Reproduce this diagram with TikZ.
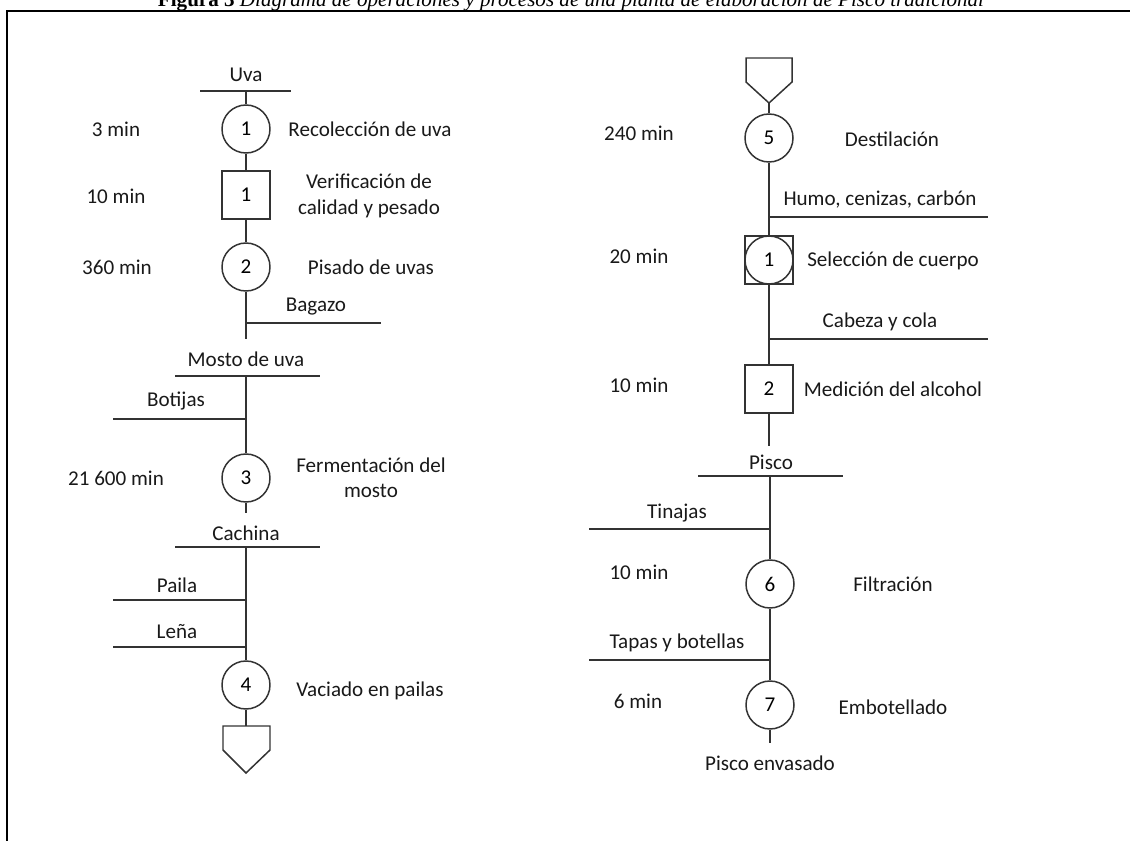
\documentclass[tikz,border=0pt]{standalone}
\usepackage{fontspec}
\setmainfont{Carlito}
\newfontfamily\capfont{Liberation Serif}
\begin{document}
\begin{tikzpicture}[x=0.02cm,y=-0.02cm,
  ln/.style={draw=black!80,line width=0.85pt},
  lbl/.style={font=\fontsize{12}{14.5}\selectfont,inner sep=0pt,text=black!90,align=center},
  op/.style={circle,ln,minimum size=0.96cm,inner sep=0pt,font=\fontsize{12}{14.5}\selectfont,fill=white},
  insp/.style={rectangle,ln,minimum size=0.96cm,inner sep=0pt,font=\fontsize{12}{14.5}\selectfont}]
\useasboundingbox (0,0) rectangle (1130,841);
\clip (0,0) rectangle (1130,841);
% caption (cut off at top) and frame
\node[font=\capfont\fontsize{12}{14}\selectfont,anchor=base,inner sep=0pt] (cap) at (571,6.5) {\textbf{Figura 3} \textit{Diagrama de operaciones y procesos de una planta de elaboración de Pisco tradicional}};
\coordinate (fTL) at (7,11);
\coordinate (fTR) at (1135,11);
\coordinate (fBL) at (7,850);
\draw[line width=1.1pt] (fTR) -- (fTL) -- (fBL);

% ================= LEFT COLUMN =================
\node[lbl] (uva) at (246,75) {Uva};
\coordinate (uvaL) at (200,91); \coordinate (uvaR) at (291,91); \coordinate (uvaM) at (246,91);
\draw[ln] (uvaL) -- (uvaR);
\node[op] (o1) at (246,129) {1};
\node[lbl] (t1) at (116,129) {3 min};
\node[lbl] (d1) at (370,129) {Recolección de uva};
\node[insp] (i1) at (246,195) {1};
\node[lbl] (t2) at (116,196) {10 min};
\node[lbl] (d2) at (369,196) {Verificación de\\calidad y pesado};
\node[op] (o2) at (246,267) {2};
\node[lbl] (t3) at (117,267) {360 min};
\node[lbl] (d3) at (371,267) {Pisado de uvas};
\draw[ln] (uvaM) -- (o1);
\draw[ln] (o1) -- (i1);
\draw[ln] (i1) -- (o2);
\coordinate (bagM) at (246,323); \coordinate (bagR) at (381,323); \coordinate (e1) at (246,339);
\node[lbl] (bag) at (316,307) {Bagazo};
\draw[ln] (o2) -- (e1);
\draw[ln] (bagM) -- (bagR);

\node[lbl] (mosto) at (246,359) {Mosto de uva};
\coordinate (moL) at (175,376); \coordinate (moR) at (320,376); \coordinate (moM) at (246,376);
\draw[ln] (moL) -- (moR);
\coordinate (botL) at (113,419); \coordinate (botM) at (246,419);
\node[lbl] (bot) at (176,401) {Botijas};
\draw[ln] (botL) -- (botM);
\node[op] (o3) at (246,478) {3};
\node[lbl] (t4) at (116,478) {21 600 min};
\node[lbl] (d4) at (371,478) {Fermentación del\\mosto};
\draw[ln] (moM) -- (o3);
\coordinate (e2) at (246,513);
\draw[ln] (o3) -- (e2);

\node[lbl] (cach) at (246,533) {Cachina};
\coordinate (caL) at (175,547); \coordinate (caR) at (320,547); \coordinate (caM) at (246,547);
\draw[ln] (caL) -- (caR);
\coordinate (paL) at (113,600); \coordinate (paM) at (246,600);
\node[lbl] (pai) at (177,585) {Paila};
\draw[ln] (paL) -- (paM);
\coordinate (leL) at (113,647); \coordinate (leM) at (246,647);
\node[lbl] (len) at (177,632) {Leña};
\draw[ln] (leL) -- (leM);
\node[op] (o4) at (246,685) {4};
\node[lbl] (d5) at (370,691) {Vaciado en pailas};
\draw[ln] (caM) -- (o4);
\coordinate (s1) at (246,726);
\draw[ln] (o4) -- (s1);
\draw[ln,line join=miter] (223,726) -- (270,726) -- (270,750) -- (246,773) -- (223,750) -- cycle;

% ================= RIGHT COLUMN =================
\draw[ln,line join=miter] (746,58) -- (792,58) -- (792,82) -- (769,103) -- (746,82) -- cycle;
\coordinate (s2) at (769,103);
\node[op] (o5) at (769,138) {5};
\node[lbl] (t5) at (639,133) {240 min};
\node[lbl] (d6) at (892,139) {Destilación};
\draw[ln] (s2) -- (o5);
\coordinate (huM) at (769,217); \coordinate (huR) at (988,217);
\node[lbl] (humo) at (880,200) {Humo, cenizas, carbón};
\draw[ln] (huM) -- (huR);
\node[insp] (c1sq) at (769,260) {};
\node[op,fill=none] (c1) at (c1sq.center) {1};
\node[lbl] (t6) at (639,256) {20 min};
\node[lbl] (d7) at (893,261) {Selección de cuerpo};
\draw[ln] (o5) -- (c1sq);
\coordinate (cbM) at (769,339); \coordinate (cbR) at (988,339);
\node[lbl] (cab) at (880,322) {Cabeza y cola};
\draw[ln] (cbM) -- (cbR);
\node[insp] (i2) at (769,389) {2};
\node[lbl] (t7) at (639,385) {10 min};
\node[lbl] (d8) at (893,389) {Medición del alcohol};
\draw[ln] (c1sq) -- (i2);
\coordinate (e3) at (769,446);
\draw[ln] (i2) -- (e3);

\node[lbl] (pisco) at (771,462) {Pisco};
\coordinate (piL) at (698,476); \coordinate (piR) at (843,476); \coordinate (piM) at (770,476);
\draw[ln] (piL) -- (piR);
\coordinate (tiL) at (589,529); \coordinate (tiM) at (770,529);
\node[lbl] (tin) at (677,513) {Tinajas};
\draw[ln] (tiL) -- (tiM);
\node[op] (o6) at (770,584) {6};
\node[lbl] (t8) at (639,572) {10 min};
\node[lbl] (d9) at (893,584) {Filtración};
\draw[ln] (piM) -- (o6);
\coordinate (taL) at (589,660); \coordinate (taM) at (770,660);
\node[lbl] (tap) at (677,643) {Tapas y botellas};
\draw[ln] (taL) -- (taM);
\node[op] (o7) at (770,705) {7};
\node[lbl] (t9) at (638,701) {6 min};
\node[lbl] (d10) at (893,707) {Embotellado};
\draw[ln] (o6) -- (o7);
\coordinate (e4) at (770,743);
\draw[ln] (o7) -- (e4);
\node[lbl] (env) at (770,763) {Pisco envasado};
\end{tikzpicture}
\end{document}
